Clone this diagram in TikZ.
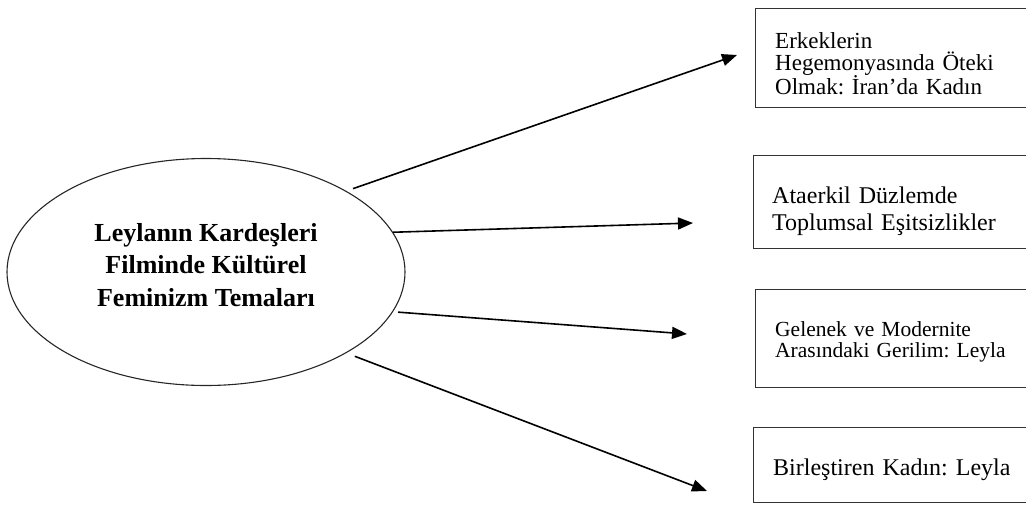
\documentclass[tikz,border=0pt]{standalone}
\usepackage{fontspec}
\setmainfont{Liberation Serif}
\usetikzlibrary{shapes.geometric,arrows.meta}
\setlength{\lineskiplimit}{-100pt}
\frenchspacing

\tikzset{
  themebox/.style={ellipse, draw=black!85, line width=1.1pt, minimum width=398pt,
    minimum height=227pt, inner sep=0pt},
  themetitle/.style={align=center, inner sep=0pt,
    font=\bfseries\fontsize{26}{32.5}\selectfont},
  topicbox/.style={draw=black!80, line width=1.3pt, anchor=north west, inner sep=0pt},
  topictext/.style={anchor=base west, inner sep=0pt, text width=250pt, align=left},
  arr/.style={line width=1.6pt, -{Triangle[length=15pt,width=12pt]}},
}

\begin{document}
\begin{tikzpicture}[x=1pt,y=-1pt]
    \useasboundingbox (0,0) rectangle (1026,507);
    \clip (0,0) rectangle (1026,507);

    \node[themebox] (theme) at (206,272) {};
    \node[themetitle] (title) at ([yshift=7pt]theme.center)
        {Leylanın Kardeşleri\\Filminde Kültürel\\Feminizm Temaları};

    \node[topicbox, minimum width=280pt, minimum height=99pt] (b1) at (755,8) {};
    \node[topictext, font=\fontsize{23}{22}\selectfont] (t1) at (775,48)
        {Erkeklerin\\Hegemonyasında Öteki\\Olmak: İran’da Kadın};
    \node[topicbox, minimum width=280pt, minimum height=93pt] (b2) at (753,155) {};
    \node[topictext, font=\fontsize{24}{27}\selectfont] (t2) at (772,203)
        {Ataerkil Düzlemde\\Toplumsal Eşitsizlikler};
    \node[topicbox, minimum width=280pt, minimum height=98pt] (b3) at (755,289) {};
    \node[topictext, font=\fontsize{21.5}{21.5}\selectfont] (t3) at (775,336)
        {Gelenek ve Modernite\\Arasındaki Gerilim: Leyla};
    \node[topicbox, minimum width=280pt, minimum height=75pt] (b4) at (753,427) {};
    \node[topictext, font=\fontsize{24}{27}\selectfont] (t4) at (773,475)
        {Birleştiren Kadın: Leyla};

    \coordinate (tip1) at (737,55);
    \coordinate (tip2) at (693,223);
    \coordinate (tip3) at (687,334);
    \coordinate (tip4) at (707,491);

    \draw[arr, shorten <=7pt] (theme.30) -- (tip1);
    \draw[arr] (theme.12) -- (tip2);
    \draw[arr, shorten <=5pt] (theme.-12) -- (tip3);
    \draw[arr, shorten <=9pt] (theme.-30) -- (tip4);
\end{tikzpicture}
\end{document}
